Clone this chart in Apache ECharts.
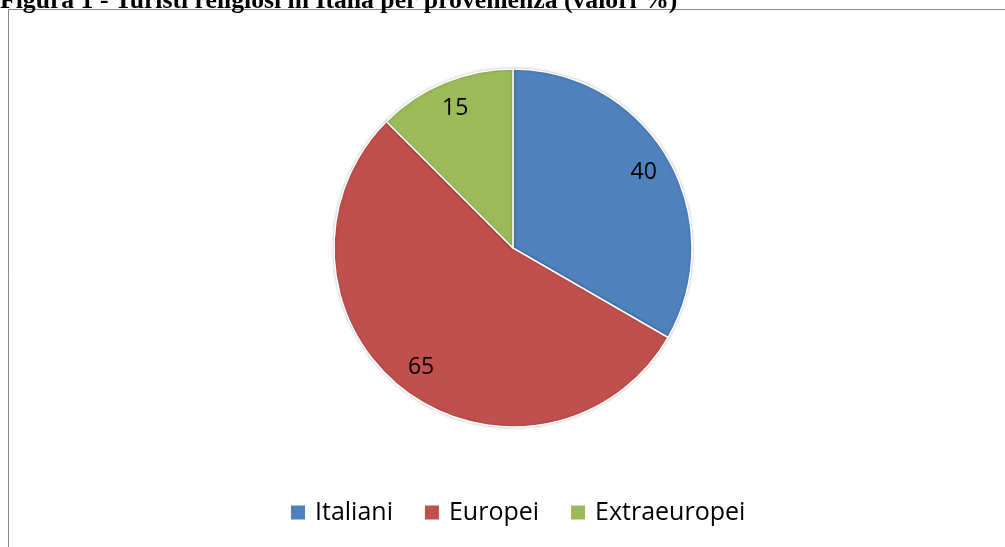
<!DOCTYPE html>
<html>
<head>
<meta charset="utf-8">
<script src="https://cdn.jsdelivr.net/npm/echarts@6/dist/echarts.min.js"></script>
<style>
html,body{margin:0;padding:0;background:#fff;}
#c{width:1005px;height:547px;}
</style>
</head>
<body>
<div id="c"></div>
<script>
var titleText = 'Figura 1 - Turisti religiosi in Italia per provenienza (valori %)';
var categories = ['Italiani', 'Europei', 'Extraeuropei'];
var values = [40, 65, 15];
var colors = ['#4F81BD', '#C0504D', '#9BBB59'];

var chart = echarts.init(document.getElementById('c'));
var pieData = categories.map(function (n, i) {
  return { name: n, value: values[i], itemStyle: { color: colors[i] } };
});
chart.setOption({
  animation: false,
  graphic: [
    { type: 'rect', shape: { x: 8.5, y: 9.5, width: 1010, height: 560 },
      style: { fill: 'none', stroke: '#878787', lineWidth: 1 }, silent: true },
    { type: 'text', x: 0, y: 14, style: { text: titleText, fill: '#000',
      font: 'bold 25.7px "Liberation Serif", serif', textVerticalAlign: 'bottom' }, silent: true }
  ],
  legend: {
    data: categories,
    bottom: 17,
    left: 286,
    itemWidth: 14,
    itemHeight: 14,
    itemGap: 32,
    icon: 'rect',
    selectedMode: false,
    itemStyle: { borderWidth: 0, shadowBlur: 0 },
    textStyle: { fontFamily: 'Open Sans', fontSize: 25, color: '#000', padding: [0, 0, 0, 5] }
  },
  series: [
    {
      type: 'pie',
      center: [513, 248],
      radius: [0, 179],
      startAngle: 90,
      clockwise: true,
      silent: true,
      label: { show: false },
      labelLine: { show: false },
      itemStyle: { borderColor: '#fff', borderWidth: 1.5, shadowBlur: 3, shadowColor: 'rgba(0,0,0,0.25)' },
      data: pieData
    },
    {
      type: 'pie',
      center: [513, 248],
      radius: [117, 179],
      startAngle: 90,
      clockwise: true,
      silent: true,
      z: 3,
      legendHoverLink: false,
      itemStyle: { color: 'rgba(0,0,0,0)', borderWidth: 0 },
      label: { show: true, position: 'inside', formatter: '{c}', fontFamily: 'Open Sans', fontSize: 23, color: '#000' },
      labelLine: { show: false },
      data: categories.map(function (n, i) { return { name: n, value: values[i], itemStyle: { color: 'rgba(0,0,0,0)' } }; })
    }
  ]
});
</script>
</body>
</html>
